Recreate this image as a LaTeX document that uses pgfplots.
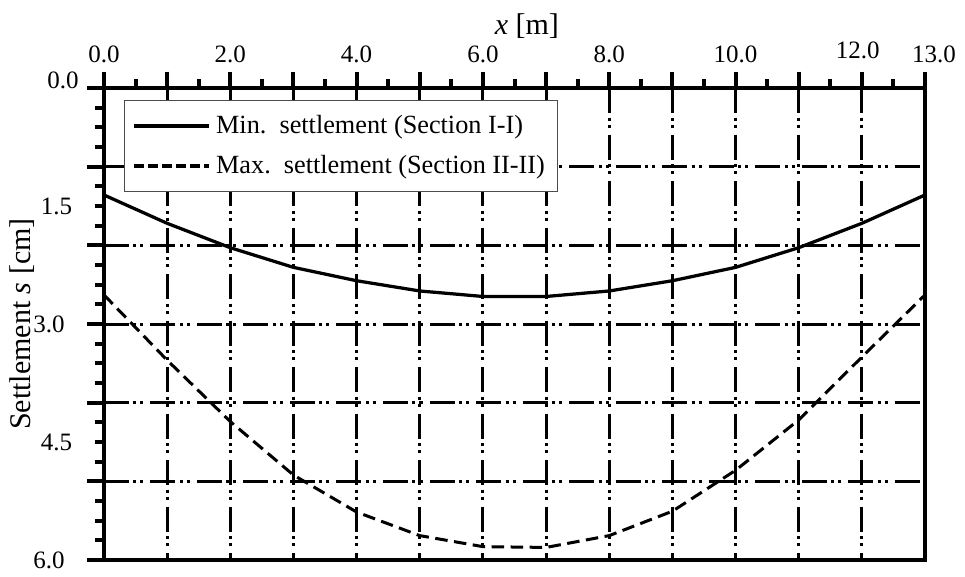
\documentclass[border=0pt]{standalone}
\usepackage{fontspec}
\setmainfont{Liberation Serif}
\usepackage{pgfplots}
\pgfplotsset{compat=1.18}

% min settlement along section I-I, max along section II-II
\pgfplotstableread{
x   smin  smax
0   1.36  2.63
1   1.72  3.46
2   2.03  4.24
3   2.28  4.92
4   2.45  5.39
5   2.58  5.69
6   2.65  5.83
7   2.65  5.84
8   2.58  5.69
9   2.45  5.38
10  2.28  4.86
11  2.03  4.22
12  1.72  3.42
13  1.36  2.63
}\settle

\begin{document}
\begin{tikzpicture}
\begin{axis}[
    scale only axis,
    width=328.4pt, height=188.8pt,
    xmin=0, xmax=13, ymin=0, ymax=6,
    y dir=reverse,
    axis line style={line width=1.6pt},
    every tick/.style={black, line width=1.6pt},
    tick align=outside,
    xtick pos=upper, xticklabel pos=upper,
    ytick pos=left,
    major tick length=6.6pt, minor tick length=3.6pt,
    xtick={0,1,...,13},
    xticklabels={0.0,,2.0,,4.0,,6.0,,8.0,,10.0,,{\raisebox{1.6pt}{\kern-3.2pt 12.0}},{13.0\kern-7.2pt}},
    minor x tick num=1,
    ytick={0,1,...,6},
    yticklabels={{\raisebox{6.4pt}{0.0\kern-5.6pt}},,,3.0,,,6.0},
    yticklabel shift=5.6pt,
    minor y tick num=3,
    extra y ticks={1.5,4.5},
    extra y tick labels={1.5,4.5},
    extra y tick style={grid=none, major tick length=3.6pt},
    grid=major,
    major grid style={black, line width=1.2pt,
        dash pattern=on 10pt off 1.8pt on 1.2pt off 1.6pt on 1.2pt off 2.8pt},
    title={\textit{x} [m]},
    every axis title/.style={at={(axis description cs:0.515,1.131)},
        anchor=center, font=\large},
    ylabel={Settlement \textit{s} [cm]},
    ylabel style={at={(axis description cs:-0.0999,0.5)}, anchor=center,
        font=\large},
    legend image code/.code={\draw[#1] (0pt,0pt) -- (30pt,0pt);},
    legend cell align=left,
    legend style={at={(axis description cs:0.0244,0.975)}, anchor=north west,
        draw=black!70, line width=0.5pt, fill=white,
        inner xsep=3pt, inner ysep=4pt, row sep=3pt,
        font=\fontsize{10.5}{12.6}\selectfont},
]
\addplot[black, line width=1.3pt, forget plot] table[x=x, y=smin] {\settle};
\addplot[black, line width=1.2pt, dash pattern=on 5pt off 2.6pt, forget plot]
    table[x=x, y=smax] {\settle};
\addlegendimage{black, line width=1.6pt}
\addlegendentry{Min.\ \ settlement (Section I-I)}
\addlegendimage{black, line width=1.6pt, dash pattern=on 4pt off 1.6pt}
\addlegendentry{Max.\ \ settlement (Section II-II)}
\end{axis}
\path (current axis.south west) ++(-41.6pt,-5.2pt) rectangle ++(386pt,229.2pt);
\end{tikzpicture}
\end{document}
